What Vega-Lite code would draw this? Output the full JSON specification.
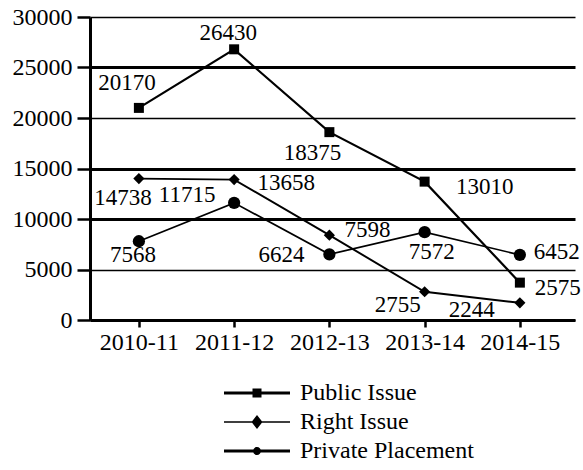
{
  "$schema": "https://vega.github.io/schema/vega-lite/v6.json",
  "width": 485,
  "height": 303,
  "autosize": {"type": "none"},
  "padding": {"left": 90, "top": 17, "right": 8, "bottom": 150},
  "background": "white",
  "config": {
    "view": {"stroke": null},
    "font": "Liberation Serif",
    "text": {"font": "Liberation Serif", "fontSize": 23, "color": "black"}
  },
  "data": {
    "values": [
      {"year": "2010-11", "series": "Public Issue", "value": 21000, "label": "20170"},
      {"year": "2011-12", "series": "Public Issue", "value": 26800, "label": "26430"},
      {"year": "2012-13", "series": "Public Issue", "value": 18600, "label": "18375"},
      {"year": "2013-14", "series": "Public Issue", "value": 13700, "label": "13010"},
      {"year": "2014-15", "series": "Public Issue", "value": 3700, "label": "2575"},
      {"year": "2010-11", "series": "Right Issue", "value": 14000, "label": "14738"},
      {"year": "2011-12", "series": "Right Issue", "value": 13900, "label": "13658"},
      {"year": "2012-13", "series": "Right Issue", "value": 8400, "label": "7598"},
      {"year": "2013-14", "series": "Right Issue", "value": 2800, "label": "2755"},
      {"year": "2014-15", "series": "Right Issue", "value": 1700, "label": "2244"},
      {"year": "2010-11", "series": "Private Placement", "value": 7800, "label": "7568"},
      {"year": "2011-12", "series": "Private Placement", "value": 11600, "label": "11715"},
      {"year": "2012-13", "series": "Private Placement", "value": 6500, "label": "6624"},
      {"year": "2013-14", "series": "Private Placement", "value": 8700, "label": "7572"},
      {"year": "2014-15", "series": "Private Placement", "value": 6450, "label": "6452"}
    ]
  },
  "encoding": {
    "x": {
      "field": "year",
      "type": "ordinal",
      "scale": {"type": "point", "padding": 0.546, "align": 0.47},
      "axis": {
        "title": null,
        "labelAngle": 0,
        "labelFont": "Liberation Serif",
        "labelFontSize": 24,
        "labelColor": "black",
        "labelPadding": 3,
        "domainColor": "black",
        "domainWidth": 3,
        "tickColor": "black",
        "tickWidth": 2.5,
        "tickSize": 7,
        "grid": false
      }
    },
    "y": {
      "field": "value",
      "type": "quantitative",
      "scale": {"domain": [0, 30000], "nice": false},
      "axis": {
        "title": null,
        "values": [0, 5000, 10000, 15000, 20000, 25000, 30000],
        "format": "d",
        "labelFont": "Liberation Serif",
        "labelFontSize": 24,
        "labelColor": "black",
        "labelPadding": 5,
        "labelFlush": false,
        "domainColor": "black",
        "domainWidth": 3,
        "tickColor": "black",
        "tickWidth": 2.5,
        "tickSize": 13,
        "grid": true,
        "gridColor": "black",
        "gridOpacity": 1,
        "gridWidth": {
          "condition": {"test": "datum.value == 25000 || datum.value == 15000 || datum.value == 10000", "value": 3},
          "value": 1.6
        }
      }
    }
  },
  "layer": [
    {
      "mark": {"type": "line", "color": "black"},
      "encoding": {
        "detail": {"field": "series", "type": "nominal"},
        "strokeWidth": {
          "field": "series",
          "type": "ordinal",
          "scale": {"domain": ["Public Issue", "Right Issue", "Private Placement"], "range": [2.2, 1.7, 2]},
          "legend": null
        }
      }
    },
    {
      "mark": {"type": "point", "filled": true, "color": "black", "opacity": 1, "strokeWidth": 0},
      "encoding": {
        "shape": {
          "field": "series",
          "type": "nominal",
          "scale": {"domain": ["Public Issue", "Right Issue", "Private Placement"], "range": ["square", "diamond", "circle"]},
          "legend": null
        },
        "size": {
          "field": "series",
          "type": "ordinal",
          "scale": {"domain": ["Public Issue", "Right Issue", "Private Placement"], "range": [100, 150, 50]},
          "legend": null
        }
      }
    },
    {
      "transform": [{"filter": "datum.value < 0"}],
      "mark": {"type": "point", "filled": true, "color": "black", "opacity": 1},
      "encoding": {
        "shape": {
          "field": "series",
          "type": "nominal",
          "scale": {
            "domain": ["Public Issue", "Right Issue", "Private Placement"],
            "range": [
              "M-3.3,-0.15H3.3V0.15H-3.3Z M-0.45,-0.45H0.45V0.45H-0.45Z",
              "M-3.3,-0.075H3.3V0.075H-3.3Z M0,-0.7L0.55,0L0,0.7L-0.55,0Z",
              "M-3.3,-0.15H3.3V0.15H-3.3Z M-0.4,0A0.4,0.4 0 1,1 0.4,0A0.4,0.4 0 1,1 -0.4,0Z"
            ]
          },
          "legend": {
            "title": null,
            "orient": "none",
            "legendX": 155,
            "legendY": 364,
            "direction": "vertical",
            "symbolSize": 400,
            "symbolFillColor": "black",
            "symbolStrokeColor": "black",
            "symbolStrokeWidth": 0,
            "symbolOpacity": 1,
            "labelFont": "Liberation Serif",
            "labelFontSize": 24,
            "labelColor": "black",
            "labelOffset": 31,
            "labelLimit": 300,
            "rowPadding": 5
          }
        }
      }
    },
    {"transform": [{"filter": "datum.label === '20170'"}], "mark": {"type": "text", "dx": -12, "dy": -25}, "encoding": {"text": {"field": "label"}}},
    {"transform": [{"filter": "datum.label === '26430'"}], "mark": {"type": "text", "dx": -6, "dy": -16}, "encoding": {"text": {"field": "label"}}},
    {"transform": [{"filter": "datum.label === '18375'"}], "mark": {"type": "text", "dx": -17, "dy": 21}, "encoding": {"text": {"field": "label"}}},
    {"transform": [{"filter": "datum.label === '13010'"}], "mark": {"type": "text", "dx": 60, "dy": 5}, "encoding": {"text": {"field": "label"}}},
    {"transform": [{"filter": "datum.label === '2575'"}], "mark": {"type": "text", "dx": 38, "dy": 5}, "encoding": {"text": {"field": "label"}}},
    {"transform": [{"filter": "datum.label === '14738'"}], "mark": {"type": "text", "dx": -16, "dy": 19}, "encoding": {"text": {"field": "label"}}},
    {"transform": [{"filter": "datum.label === '13658'"}], "mark": {"type": "text", "dx": 52, "dy": 3}, "encoding": {"text": {"field": "label"}}},
    {"transform": [{"filter": "datum.label === '7598'"}], "mark": {"type": "text", "dx": 38, "dy": -5}, "encoding": {"text": {"field": "label"}}},
    {"transform": [{"filter": "datum.label === '2755'"}], "mark": {"type": "text", "dx": -27, "dy": 13}, "encoding": {"text": {"field": "label"}}},
    {"transform": [{"filter": "datum.label === '2244'"}], "mark": {"type": "text", "dx": -48, "dy": 7}, "encoding": {"text": {"field": "label"}}},
    {"transform": [{"filter": "datum.label === '7568'"}], "mark": {"type": "text", "dx": -6, "dy": 14}, "encoding": {"text": {"field": "label"}}},
    {"transform": [{"filter": "datum.label === '11715'"}], "mark": {"type": "text", "dx": -47, "dy": -8}, "encoding": {"text": {"field": "label"}}},
    {"transform": [{"filter": "datum.label === '6624'"}], "mark": {"type": "text", "dx": -48, "dy": 1}, "encoding": {"text": {"field": "label"}}},
    {"transform": [{"filter": "datum.label === '7572'"}], "mark": {"type": "text", "dx": 7, "dy": 20}, "encoding": {"text": {"field": "label"}}},
    {"transform": [{"filter": "datum.label === '6452'"}], "mark": {"type": "text", "dx": 37, "dy": -3}, "encoding": {"text": {"field": "label"}}}
  ],
  "resolve": {"scale": {"shape": "independent"}}
}
